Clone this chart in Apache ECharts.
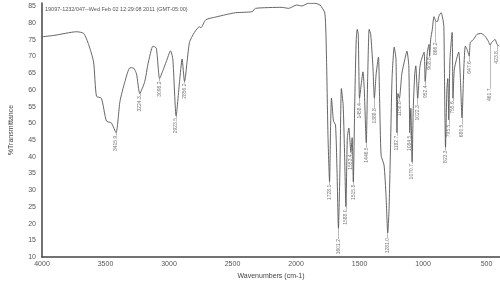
<!DOCTYPE html>
<html>
<head>
<meta charset="utf-8">
<script src="https://cdn.jsdelivr.net/npm/echarts@6/dist/echarts.min.js"></script>
<style>
  html, body { margin: 0; padding: 0; background: #fff; }
  #ir-chart { width: 500px; height: 285px; }
</style>
</head>
<body>
<div id="ir-chart"></div>
<script>
// spectrum: wavenumber (cm-1) and %T
const wavenumbers = [
  4000, 3906, 3727, 3672, 3633, 3594, 3571, 3532, 3493, 3454, 3417, 3386, 3347, 3308, 3282, 3256,
  3230, 3191, 3165, 3126, 3100, 3074, 3048, 3022, 2988, 2970, 2944, 2917, 2897, 2878, 2839, 2800,
  2761, 2749, 2710, 2632, 2554, 2476, 2346, 2319, 2111, 2059, 1994, 1955, 1903, 1851, 1812, 1773,
  1760, 1748, 1736, 1728, 1721, 1705, 1689, 1678, 1666, 1654, 1643, 1629, 1619, 1607, 1596, 1584,
  1568, 1558, 1549, 1537, 1526, 1518, 1510, 1500, 1486, 1473, 1463, 1447, 1436, 1424, 1412, 1395,
  1383, 1369, 1351, 1342, 1330, 1307, 1291, 1278, 1268, 1256, 1244, 1227, 1213, 1205, 1198, 1186,
  1167, 1143, 1127, 1112, 1104, 1096, 1086, 1077, 1065, 1057, 1042, 1026, 1018, 992, 983, 966,
  953, 948, 940, 927, 914, 901, 888, 874, 857, 843, 836, 831, 823, 812, 805, 797,
  788, 771, 764, 753, 719, 706, 693, 679, 667, 654, 636, 628, 602, 576, 542, 511,
  485, 472, 459, 433, 417, 399
]
const transmittance = [
  75.9, 76.3, 77.4, 76.9, 73.6, 68.4, 58.1, 57.5, 50.7, 50.1, 47.2, 56.6, 62.5, 66.6, 66.6, 64.8,
  58.9, 62.5, 67.8, 73.1, 72.5, 63.4, 65.8, 68.4, 71.7, 69.2, 52.2, 62.5, 69.2, 62.5, 74.2, 77.2,
  78.9, 78.6, 81.0, 81.8, 82.5, 83.1, 83.4, 84.4, 84.7, 84.4, 85.4, 85.1, 85.9, 85.9, 85.4, 83.0,
  69.2, 45.7, 32.5, 48.6, 57.5, 50.7, 49.5, 36.9, 18.6, 36.9, 60.4, 55.4, 42.8, 25.1, 45.7, 48.6,
  41.3, 45.7, 32.5, 57.5, 75.1, 78.1, 76.6, 57.5, 61.9, 65.4, 60.4, 44.2, 63.4, 78.1, 76.6, 67.2,
  57.5, 64.8, 69.8, 57.5, 40.4, 37.5, 28.1, 17.2, 23.7, 42.8, 63.4, 72.8, 69.2, 47.2, 58.9, 57.5,
  64.8, 69.2, 71.6, 67.2, 47.2, 54.5, 38.4, 54.5, 64.8, 67.2, 57.5, 66.3, 68.4, 71.3, 62.5, 71.3,
  73.6, 70.1, 75.1, 78.1, 81.9, 80.7, 80.4, 82.2, 83.1, 81.0, 78.9, 63.4, 42.8, 60.4, 63.4, 51.0,
  69.2, 77.2, 57.5, 66.3, 71.3, 63.4, 51.6, 66.3, 73.1, 72.2, 70.1, 74.2, 75.1, 76.6, 76.9, 76.0,
  74.5, 73.4, 74.2, 75.1, 73.6, 73.1
]

// peak annotations: printed text, where the dip sits, where the label starts
const peakText = ['3415.9', '3224.3', '3098.2', '2923.5', '2856.2', '1728.1', '1601.2', '1588.0',
  '1553.4', '1515.8', '1458.4', '1446.5', '1388.8', '1281.0', '1182.7', '1158.8', '1084.5',
  '1070.7', '1022.3', '952.4', '908.8', '866.2', '823.3', '795.5', '755.6', '680.5', '647.6',
  '461.7', '423.8']
const peakWn = [3417, 3230, 3074, 2944, 2878, 1736, 1666, 1607, 1568, 1549, 1500, 1447, 1383,
  1278, 1205, 1186, 1104, 1086, 1042, 983, 948, 901, 823, 797, 764, 693, 636, 472, 417]
const peakT = [47.2, 58.9, 63.4, 52.2, 62.5, 32.5, 18.6, 25.1, 41.3, 32.5, 57.5, 44.2, 57.5,
  17.2, 47.2, 57.5, 47.2, 38.4, 57.5, 62.5, 70.1, 80.7, 42.8, 51.0, 57.5, 51.6, 70.1, 73.4, 73.6]
const labelT = [46.3, 58.1, 62.5, 51.6, 61.9, 31.6, 15.4, 24.2, 40.7, 31.6, 56.0, 42.8, 54.5,
  15.7, 46.3, 56.6, 46.3, 37.8, 55.4, 61.3, 69.8, 74.2, 41.9, 49.6, 56.6, 49.6, 68.6, 60.4, 71.6]

const xTicks = [4000, 3500, 3000, 2500, 2000, 1500, 1000, 500]

let myChart = echarts.init(document.getElementById('ir-chart'))

let spectrum = wavenumbers.map((w, i) => [w, transmittance[i]])
let labelPts = peakText.map((t, i) => ({ name: t, value: [peakWn[i], labelT[i]] }))
let leaders = peakText.map((t, i) => [
  { coord: [peakWn[i], peakT[i]] },
  { coord: [peakWn[i], labelT[i]] }
])

myChart.setOption({
  animation: false,
  title: {
    text: '19097-1232/047--Wed Feb 02 12:29:08 2011 (GMT-05:00)',
    left: 40,
    top: 1,
    textStyle: { fontSize: 5.5, fontWeight: 'normal', color: '#555', fontFamily: 'Liberation Sans' }
  },
  grid: { left: 38, right: 0, top: 3, bottom: 23.6 },
  xAxis: {
    type: 'value',
    inverse: true,
    min: 394,
    max: 4000,
    name: 'Wavenumbers (cm-1)',
    nameLocation: 'middle',
    nameGap: 16,
    nameTextStyle: { fontSize: 7, color: '#444', fontFamily: 'Liberation Sans' },
    axisLine: { show: true, onZero: false, lineStyle: { color: '#444', width: 1.5 } },
    axisTick: { show: false },
    splitLine: { show: false },
    axisLabel: {
      customValues: xTicks,
      formatter: v => String(v),
      fontSize: 7,
      color: '#555',
      margin: 4,
      fontFamily: 'Liberation Sans'
    }
  },
  yAxis: {
    type: 'value',
    min: 10,
    max: 86,
    interval: 5,
    name: '%Transmittance',
    nameLocation: 'middle',
    nameGap: 27,
    nameTextStyle: { fontSize: 7, color: '#444', fontFamily: 'Liberation Sans' },
    axisLine: { show: true, onZero: false, lineStyle: { color: '#444', width: 1.5 } },
    axisTick: { show: false },
    splitLine: { show: false },
    axisLabel: { fontSize: 7, color: '#555', margin: 6, showMaxLabel: false, fontFamily: 'Liberation Sans' }
  },
  series: [
    {
      name: 'spectrum',
      type: 'line',
      data: spectrum,
      symbol: 'none',
      smooth: 0.2,
      lineStyle: { color: '#555', width: 0.9 }
    },
    {
      name: 'peaks',
      type: 'scatter',
      data: labelPts,
      symbolSize: 0,
      silent: true,
      label: {
        show: true,
        position: 'inside',
        rotate: 90,
        align: 'right',
        verticalAlign: 'middle',
        fontSize: 5,
        color: '#555',
        fontFamily: 'Liberation Sans',
        formatter: p => p.name
      },
      markLine: {
        silent: true,
        symbol: 'none',
        label: { show: false },
        lineStyle: { color: '#777', width: 0.5, type: 'solid' },
        data: leaders
      }
    }
  ]
})
</script>
</body>
</html>
